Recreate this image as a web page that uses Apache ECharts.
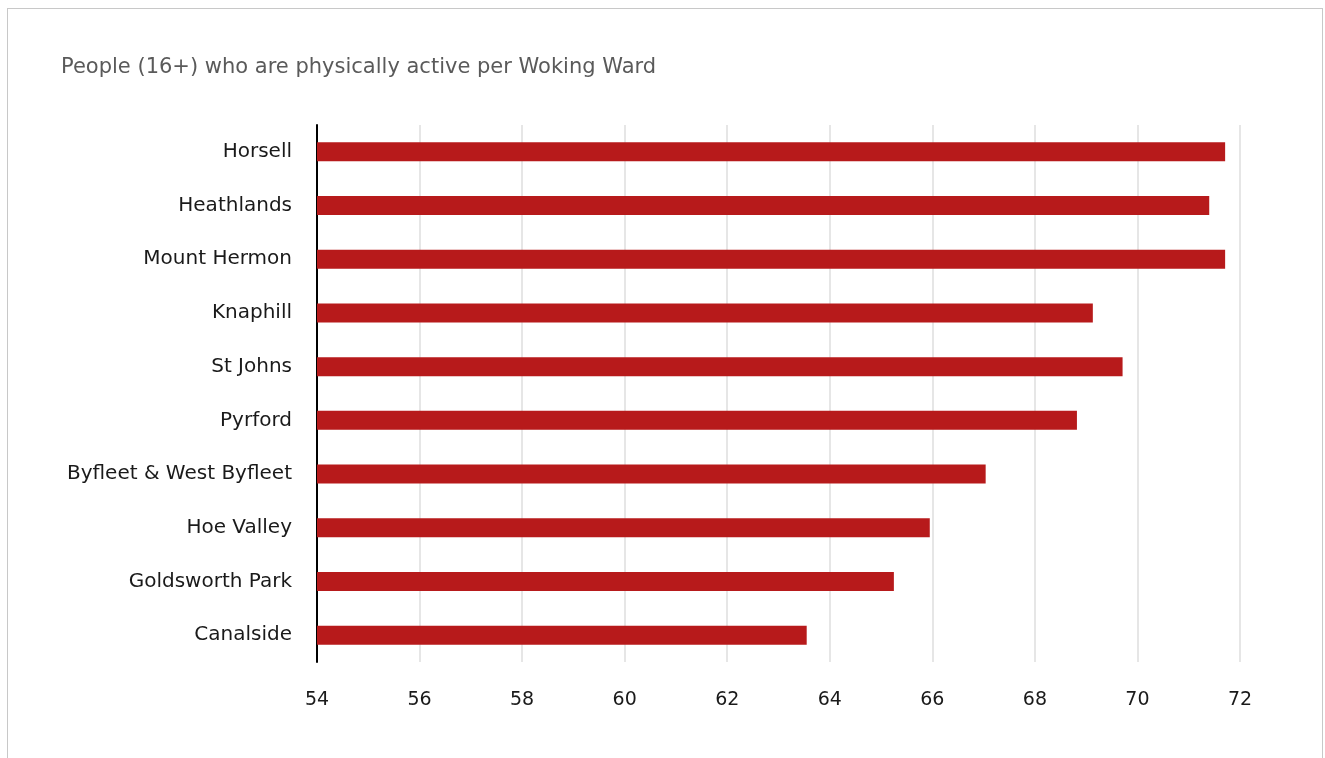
<!DOCTYPE html>
<html>
<head>
<meta charset="utf-8">
<script src="https://cdn.jsdelivr.net/npm/echarts@6/dist/echarts.min.js"></script>
<style>
html,body{margin:0;padding:0;background:#fff;}
#frame{position:absolute;left:7px;top:8px;width:1314px;height:780px;border:1px solid #c8c8c8;border-bottom:none;}
#chart{position:absolute;left:0;top:0;width:1325px;height:758px;}
</style>
</head>
<body>
<div id="frame"></div>
<div id="chart"></div>
<script>
const titleText = "People (16+) who are physically active per Woking Ward";
const wards = ["Horsell","Heathlands","Mount Hermon","Knaphill","St Johns","Pyrford","Byfleet & West Byfleet","Hoe Valley","Goldsworth Park","Canalside"];
const activePct = [71.71, 71.40, 71.71, 69.13, 69.71, 68.82, 67.04, 65.95, 65.25, 63.55];
const axisMin = 54, axisMax = 72, axisStep = 2;

const chart = echarts.init(document.getElementById('chart'));
chart.setOption({
  animation:false,
  title:{text:titleText,left:56,top:52,textStyle:{fontFamily:'DejaVu Sans',fontWeight:'normal',fontSize:21,color:'#5a5a5a'}},
  grid:{left:317,right:85,top:125,bottom:96,containLabel:false},
  xAxis:{type:'value',min:axisMin,max:axisMax,interval:axisStep,
    axisLine:{show:false},axisTick:{show:false},
    axisLabel:{margin:29,fontFamily:'DejaVu Sans',fontSize:19,color:'#1a1a1a'}},
  yAxis:{type:'category',data:wards,inverse:true,
    axisLine:{show:true,lineStyle:{color:'#000',width:2}},axisTick:{show:false},
    axisLabel:{margin:25,fontFamily:'DejaVu Sans',fontSize:20,color:'#1a1a1a'}},
  series:[{type:'bar',data:activePct,barWidth:19,itemStyle:{color:'#b71a1b'}}]
});
chart.setOption({xAxis:{splitLine:{show:true,lineStyle:{color:'#e6e6e6',width:2}}}});
</script>
</body>
</html>
